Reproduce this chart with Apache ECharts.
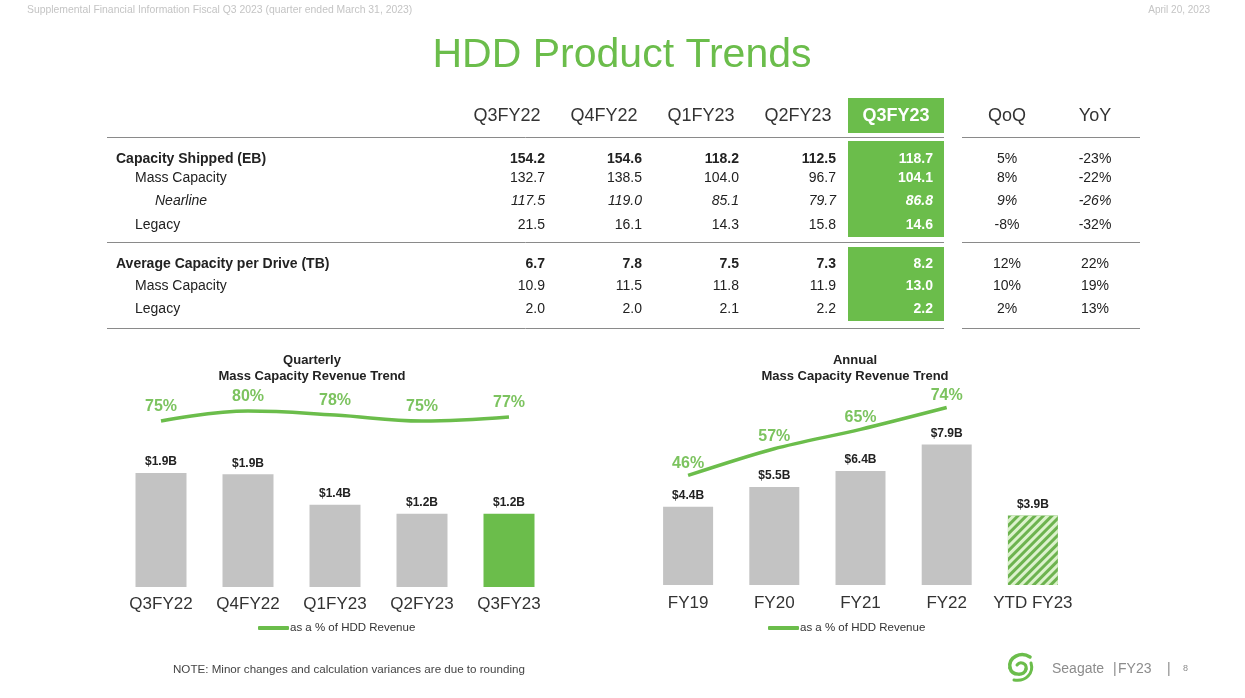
<!DOCTYPE html>
<html><head><meta charset="utf-8">
<script src="https://cdn.jsdelivr.net/npm/echarts@6/dist/echarts.min.js"></script>
<style>html,body{margin:0;padding:0;background:#fff}#c{width:1245px;height:698px}</style>
</head><body><div id="c"></div>
<script>
// ---------- table data ----------
const tableCols = ['Q3FY22', 'Q4FY22', 'Q1FY23', 'Q2FY23', 'Q3FY23'];
const changeCols = ['QoQ', 'YoY'];
const rowLabels = ['Capacity Shipped (EB)', 'Mass Capacity', 'Nearline', 'Legacy',
  'Average Capacity per Drive (TB)', 'Mass Capacity', 'Legacy'];
const capShipped = [154.2, 154.6, 118.2, 112.5, 118.7];
const capMass = [132.7, 138.5, 104.0, 96.7, 104.1];
const capNearline = [117.5, 119.0, 85.1, 79.7, 86.8];
const capLegacy = [21.5, 16.1, 14.3, 15.8, 14.6];
const avgDrive = [6.7, 7.8, 7.5, 7.3, 8.2];
const avgMass = [10.9, 11.5, 11.8, 11.9, 13.0];
const avgLegacy = [2.0, 2.0, 2.1, 2.2, 2.2];
const qoq = ['5%', '8%', '9%', '-8%', '12%', '10%', '2%'];
const yoy = ['-23%', '-22%', '-26%', '-32%', '22%', '19%', '13%'];

// ---------- chart data ----------
const quarters = ['Q3FY22', 'Q4FY22', 'Q1FY23', 'Q2FY23', 'Q3FY23'];
const quarterRevenue = [1.90, 1.88, 1.37, 1.22, 1.22];
const quarterPct = [75, 80, 78, 75, 77];
const years = ['FY19', 'FY20', 'FY21', 'FY22', 'YTD FY23'];
const yearRevenue = [4.4, 5.5, 6.4, 7.9, 3.9];
const yearPct = [46, 57, 65, 74];
const legendName = 'as a % of HDD Revenue';

const GREEN = '#6bbd4b';
const LABEL_GREEN = '#7cc35f';
const GRAY = '#c3c3c3';
const FONT = '"Liberation Sans", Arial, sans-serif';

const rowsData = [capShipped, capMass, capNearline, capLegacy, avgDrive, avgMass, avgLegacy];
const rowY = [159, 178, 201, 225, 264, 286, 309];
const rowX = [116, 135, 155, 135, 116, 135, 135];
const rowBold = [true, false, false, false, true, false, false];
const rowItalic = [false, false, true, false, false, false, false];
const colRight = [545, 642, 739, 836, 933];
const colCenter = [507, 604, 701, 798, 896];
const chgCenter = [1007, 1095];

function fontStr(size, bold, italic) {
  return (italic ? 'italic ' : '') + (bold ? 'bold ' : '') + size + 'px ' + FONT;
}
function txt(x, y, text, size, color, align, bold, italic) {
  return { type: 'text', x: x, y: y, silent: true,
    style: { text: text, fill: color, font: fontStr(size, bold, italic), textAlign: align || 'left', textVerticalAlign: 'middle' } };
}
function hline(x1, x2, y) {
  return { type: 'line', silent: true, shape: { x1: x1, y1: y + 0.5, x2: x2, y2: y + 0.5 }, style: { stroke: '#8a8a8a', lineWidth: 1 } };
}
function curve(p, w) {
  return { type: 'bezierCurve', silent: true,
    shape: { x1: p[0], y1: p[1], cpx1: p[2], cpy1: p[3], cpx2: p[4], cpy2: p[5], x2: p[6], y2: p[7] },
    style: { stroke: GREEN, lineWidth: w, fill: null, lineCap: 'round' } };
}

const graphics = [];
// header / footer
graphics.push(txt(27, 10, 'Supplemental Financial Information Fiscal Q3 2023 (quarter ended March 31, 2023)', 10.4, '#c4c4c4', 'left'));
graphics.push(txt(1210, 10, 'April 20, 2023', 10, '#c4c4c4', 'right'));
graphics.push(txt(622, 56, 'HDD Product Trends', 41, GREEN, 'center'));
graphics.push(txt(173, 670, 'NOTE: Minor changes and calculation variances are due to rounding', 11.6, '#444', 'left'));
graphics.push(txt(1052, 669, 'Seagate', 14, '#8c8c8c', 'left'));
graphics.push(txt(1113, 669, '|', 14, '#8c8c8c', 'left'));
graphics.push(txt(1118, 669, 'FY23', 14, '#8c8c8c', 'left'));
graphics.push(txt(1167, 669, '|', 14, '#8c8c8c', 'left'));
graphics.push(txt(1183, 669, '8', 9, '#8c8c8c', 'left'));
// logo swirl
graphics.push(curve([1030, 657, 1021, 651, 1008, 657, 1010, 668], 3.5));
graphics.push(curve([1010, 668, 1012, 676, 1025, 676, 1026, 669], 3.5));
graphics.push(curve([1026, 669, 1027, 663, 1020, 661, 1017, 665], 3));
graphics.push(curve([1031, 663, 1034, 673, 1026, 682, 1014, 680], 3));

// green highlight boxes
graphics.push({ type: 'rect', silent: true, shape: { x: 848, y: 98, width: 96, height: 35 }, style: { fill: GREEN } });
graphics.push({ type: 'rect', silent: true, shape: { x: 848, y: 141, width: 96, height: 96 }, style: { fill: GREEN } });
graphics.push({ type: 'rect', silent: true, shape: { x: 848, y: 247, width: 96, height: 74 }, style: { fill: GREEN } });

// separators
[137, 242, 328].forEach(function (y) {
  graphics.push(hline(107, 944, y));
  graphics.push(hline(962, 1140, y));
});

// column headers
tableCols.forEach(function (c, i) {
  const last = i === tableCols.length - 1;
  graphics.push(txt(colCenter[i], 116, c, 18, last ? '#fff' : '#333', 'center', last, false));
});
changeCols.forEach(function (c, i) {
  graphics.push(txt(chgCenter[i], 116, c, 18, '#333', 'center'));
});

// rows
rowLabels.forEach(function (lab, r) {
  graphics.push(txt(rowX[r], rowY[r], lab, 14, '#222', 'left', rowBold[r], rowItalic[r]));
  rowsData[r].forEach(function (v, i) {
    const last = i === rowsData[r].length - 1;
    graphics.push(txt(colRight[i], rowY[r], v.toFixed(1), 14, last ? '#fff' : '#222', 'right', rowBold[r] || last, rowItalic[r]));
  });
  graphics.push(txt(chgCenter[0], rowY[r], qoq[r], 14, '#222', 'center', false, rowItalic[r]));
  graphics.push(txt(chgCenter[1], rowY[r], yoy[r], 14, '#222', 'center', false, rowItalic[r]));
});

// chart titles
graphics.push(txt(312, 360, 'Quarterly', 13, '#222', 'center', true));
graphics.push(txt(312, 376, 'Mass Capacity Revenue Trend', 13, '#222', 'center', true));
graphics.push(txt(855, 360, 'Annual', 13, '#222', 'center', true));
graphics.push(txt(855, 376, 'Mass Capacity Revenue Trend', 13, '#222', 'center', true));

const barLabel = {
  show: true, position: 'top', distance: 5, color: '#222', fontWeight: 'bold', fontSize: 12, fontFamily: FONT,
  formatter: function (p) { return '$' + p.value.toFixed(1) + 'B'; }
};
const lineLabel = {
  show: true, position: 'top', distance: 6, color: LABEL_GREEN, fontWeight: 'bold', fontSize: 16, fontFamily: FONT,
  formatter: function (p) { return p.value + '%'; }
};
function catAxis(data, gridIndex, show, margin) {
  return {
    type: 'category', data: data, gridIndex: gridIndex, show: show,
    axisLine: { show: false }, axisTick: { show: false },
    axisLabel: { color: '#333', fontSize: 17, fontFamily: FONT, margin: margin, interval: 0 }
  };
}
function valAxis(gridIndex, min, max) {
  return { type: 'value', gridIndex: gridIndex, min: min, max: max, show: false, splitLine: { show: false } };
}
const legendBase = { data: [legendName], top: 617, icon: 'roundRect', itemWidth: 31, itemHeight: 4, itemGap: 0,
  textStyle: { color: '#333', fontSize: 11.5, fontFamily: FONT, padding: [0, 0, 0, -4] } };

const option = {
  backgroundColor: '#fff',
  animation: false,
  graphic: { elements: graphics },
  legend: [
    Object.assign({}, legendBase, { left: 253 }),
    Object.assign({}, legendBase, { left: 763 })
  ],
  grid: [
    { left: 117.5, width: 435, top: 347, height: 240 },
    { left: 117.5, width: 435, top: 401, height: 30 },
    { left: 645, width: 431, top: 407, height: 178 },
    { left: 645, width: 431, top: 393, height: 97 }
  ],
  xAxis: [
    catAxis(quarters, 0, true, 9),
    catAxis(quarters, 1, false, 8),
    catAxis(years, 2, true, 10),
    catAxis(years, 3, false, 8)
  ],
  yAxis: [
    valAxis(0, 0, 4),
    valAxis(1, 70, 85),
    valAxis(2, 0, 10),
    valAxis(3, 40, 80)
  ],
  series: [
    { type: 'bar', xAxisIndex: 0, yAxisIndex: 0, barWidth: 51, label: barLabel,
      data: quarterRevenue.map(function (v, i) {
        return { value: v, itemStyle: { color: i === quarterRevenue.length - 1 ? GREEN : GRAY } };
      }) },
    { type: 'line', name: legendName, xAxisIndex: 1, yAxisIndex: 1, smooth: 0.4, showSymbol: true, symbol: 'circle', symbolSize: 0,
      lineStyle: { color: GREEN, width: 3.5 }, itemStyle: { color: GREEN }, label: lineLabel, data: quarterPct },
    { type: 'bar', xAxisIndex: 2, yAxisIndex: 2, barWidth: 50, label: barLabel,
      data: yearRevenue.map(function (v, i) {
        if (i === yearRevenue.length - 1) {
          return { value: v, itemStyle: { color: '#6db34f',
            decal: { symbol: 'rect', color: '#dcf2cc', dashArrayX: [1, 0], dashArrayY: [2.2, 2.8], rotation: -Math.PI / 4, symbolSize: 1 } } };
        }
        return { value: v, itemStyle: { color: GRAY } };
      }) },
    { type: 'line', name: legendName, xAxisIndex: 3, yAxisIndex: 3, smooth: 0.3, showSymbol: true, symbol: 'circle', symbolSize: 0,
      lineStyle: { color: GREEN, width: 3.5 }, itemStyle: { color: GREEN }, label: { ...lineLabel, distance: 4 }, data: yearPct }
  ]
};
const chart = echarts.init(document.getElementById('c'), null, { renderer: 'canvas' });
chart.setOption(option);
</script>
</body></html>
